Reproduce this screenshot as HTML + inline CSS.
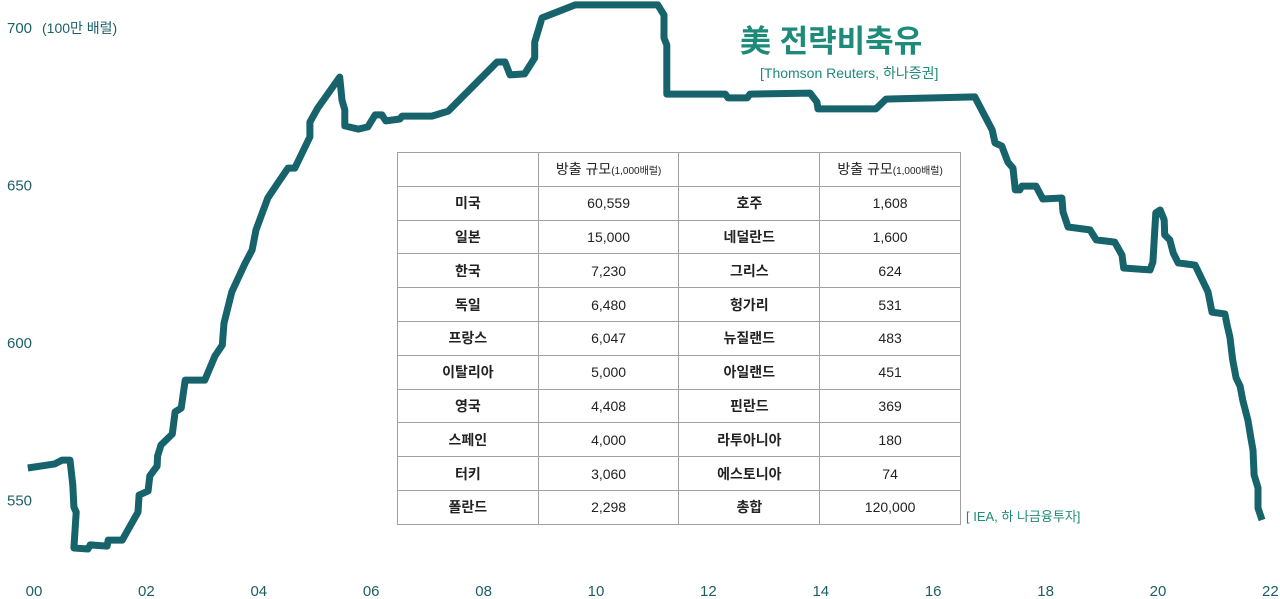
<!DOCTYPE html>
<html><head><meta charset="utf-8"><style>
body{margin:0;background:#fff;}
#wrap{position:relative;width:1280px;height:599px;overflow:hidden;font-family:"Liberation Sans","Noto Sans CJK KR",sans-serif;}
svg{position:absolute;left:0;top:0;}
table{position:absolute;left:397px;top:152px;border-collapse:collapse;width:564px;font-family:"Liberation Sans","Noto Sans CJK KR",sans-serif;}
td{border:1px solid #a0a0a0;height:32.8px;padding:0;text-align:center;font-size:14px;color:#222;width:140px;}
td.n{font-weight:bold;}
td small{font-size:10px;}
.t{position:absolute;font-family:"Liberation Sans","Noto Sans CJK KR",sans-serif;}
</style></head><body>
<div id="wrap">
<svg id="chart" width="1280" height="599"></svg>
<div class="t" style="left:740px;top:16px;font-size:31px;font-weight:bold;color:#1e8a7a;">美 전략비축유</div>
<div class="t" style="left:760px;top:63px;font-size:14px;color:#1e8a7a;">[Thomson Reuters, 하나증권]</div>
<div class="t" style="left:966px;top:506px;font-size:13px;color:#1e8a7a;">[ IEA, 하 나금융투자]</div>
<table>
<tr><td></td><td>방출 규모<small>(1,000배럴)</small></td><td></td><td>방출 규모<small>(1,000배럴)</small></td></tr>
<tr><td class="n">미국</td><td>60,559</td><td class="n">호주</td><td>1,608</td></tr>
<tr><td class="n">일본</td><td>15,000</td><td class="n">네덜란드</td><td>1,600</td></tr>
<tr><td class="n">한국</td><td>7,230</td><td class="n">그리스</td><td>624</td></tr>
<tr><td class="n">독일</td><td>6,480</td><td class="n">헝가리</td><td>531</td></tr>
<tr><td class="n">프랑스</td><td>6,047</td><td class="n">뉴질랜드</td><td>483</td></tr>
<tr><td class="n">이탈리아</td><td>5,000</td><td class="n">아일랜드</td><td>451</td></tr>
<tr><td class="n">영국</td><td>4,408</td><td class="n">핀란드</td><td>369</td></tr>
<tr><td class="n">스페인</td><td>4,000</td><td class="n">라투아니아</td><td>180</td></tr>
<tr><td class="n">터키</td><td>3,060</td><td class="n">에스토니아</td><td>74</td></tr>
<tr><td class="n">폴란드</td><td>2,298</td><td class="n">총합</td><td>120,000</td></tr>
</table>
</div>
<script>
const years=[-0.11,0.37,0.50,0.64,0.69,0.71,0.75,0.71,0.96,1.0,1.30,1.32,1.57,1.85,1.87,2.03,2.06,2.19,2.20,2.26,2.46,2.51,2.62,2.69,3.04,3.22,3.35,3.38,3.52,3.75,3.88,3.95,4.16,4.34,4.52,4.64,4.91,4.91,5.05,5.44,5.48,5.53,5.53,5.77,5.94,6.07,6.19,6.26,6.51,6.55,7.08,7.37,8.24,8.38,8.47,8.73,8.91,8.91,9.04,9.63,11.10,11.21,11.21,11.26,11.26,12.30,12.35,12.69,12.74,13.81,13.93,13.95,14.98,15.16,16.74,17.05,17.10,17.22,17.33,17.42,17.46,17.54,17.58,17.83,17.95,18.29,18.31,18.40,18.79,18.90,19.23,19.36,19.39,19.86,19.91,19.96,20.04,20.11,20.12,20.21,20.27,20.36,20.66,20.89,20.96,21.19,21.23,21.28,21.33,21.39,21.46,21.51,21.60,21.65,21.69,21.71,21.78,21.78,21.85];
const values=[560.0,561.3,562.5,562.5,554.6,547.6,546.0,534.6,534.3,535.6,535.2,537.1,537.1,546.0,551.4,552.7,557.5,560.6,563.8,567.3,570.8,577.8,579.0,587.9,587.9,595.6,599.0,606.0,615.9,624.8,629.2,635.6,645.7,650.5,655.2,655.2,665.1,669.8,674.3,684.1,676.8,673.7,668.6,667.6,668.3,672.1,672.1,670.2,670.8,671.7,671.7,673.3,688.9,688.9,684.8,685.1,690.2,695.2,702.9,707.0,707.0,703.8,696.5,694.3,678.7,678.7,677.5,677.5,678.7,679.0,676.2,674.0,674.0,677.1,677.8,667.3,663.2,662.2,657.1,655.2,648.3,648.3,649.5,649.5,645.4,645.7,641.3,636.5,635.6,632.4,631.7,627.6,623.5,622.9,625.4,641.0,641.9,638.7,634.0,632.4,628.3,625.1,624.4,615.9,609.5,608.9,605.4,601.6,594.3,588.6,586.0,581.3,575.2,569.8,565.7,557.8,553.7,547.3,543.5];
const yTicks=[700,650,600,550];
const xTicks=["00","02","04","06","08","10","12","14","16","18","20","22"];
const NS="http://www.w3.org/2000/svg";
const svg=document.getElementById('chart');
const X=y=>34+y*56.2, Y=v=>27+(700-v)*3.15;
const p=document.createElementNS(NS,'polyline');


p.setAttribute('points',years.map((y,i)=>X(y).toFixed(1)+','+Y(values[i]).toFixed(1)).join(' '));
p.setAttribute('fill','none');p.setAttribute('stroke','#17636b');p.setAttribute('stroke-width','7');p.setAttribute('stroke-linejoin','round');
svg.appendChild(p);
yTicks.forEach(v=>{const t=document.createElementNS(NS,'text');


t.setAttribute('x',7);t.setAttribute('y',Y(v)+6);t.setAttribute('font-size','15');t.setAttribute('fill','#1d5f66');
t.setAttribute('font-family','Liberation Sans, Noto Sans CJK KR, sans-serif');t.textContent=v;svg.appendChild(t);});
const u=document.createElementNS(NS,'text');


u.setAttribute('x',42);u.setAttribute('y',33);u.setAttribute('font-size','14');u.setAttribute('fill','#1d5f66');
u.setAttribute('font-family','Liberation Sans, Noto Sans CJK KR, sans-serif');u.textContent='(100만 배럴)';svg.appendChild(u);
xTicks.forEach((l,i)=>{const t=document.createElementNS(NS,'text');


t.setAttribute('x',X(i*2));t.setAttribute('y',596);t.setAttribute('text-anchor','middle');t.setAttribute('font-size','15');t.setAttribute('fill','#1d5f66');
t.setAttribute('font-family','Liberation Sans, Noto Sans CJK KR, sans-serif');t.textContent=l;svg.appendChild(t);});
</script>
</body></html>
